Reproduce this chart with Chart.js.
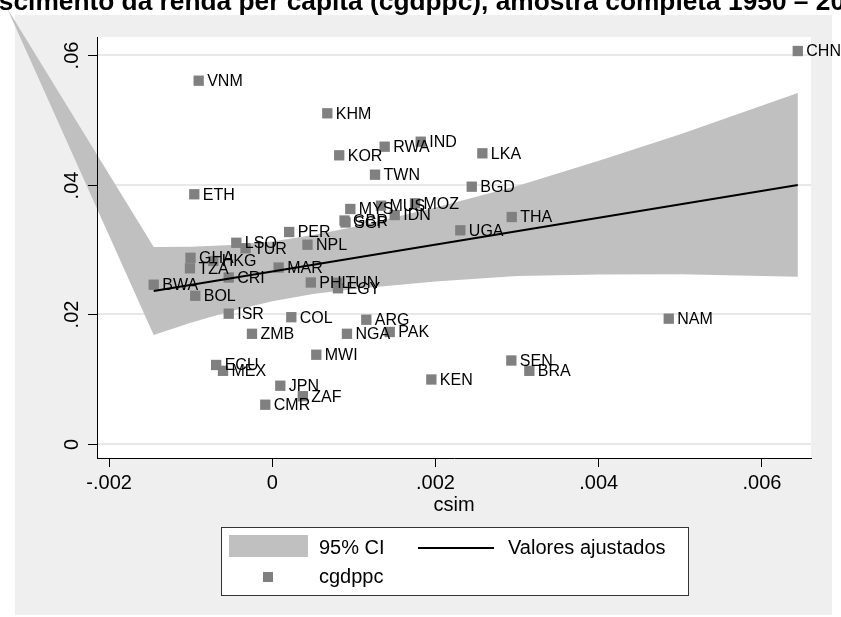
<!DOCTYPE html>
<html>
<head>
<meta charset="utf-8">
<script src="https://cdn.jsdelivr.net/npm/chart.js@4.4.1/dist/chart.umd.min.js"></script>
<style>
  html, body { margin: 0; padding: 0; background: #fff; }
  canvas { display: block; }
</style>
</head>
<body>
<canvas id="csimChart" width="841" height="617"></canvas>
<script>
// country codes, x = csim, y = cgdppc
const countries = ['VNM', 'KHM', 'RWA', 'IND', 'KOR', 'LKA', 'TWN', 'BGD', 'ETH', 'MYS', 'MUS', 'MOZ',
  'IDN', 'GBR', 'SGP', 'THA', 'UGA', 'CHN', 'PER', 'LSO', 'TUR', 'NPL', 'GHA', 'HKG', 'TZA', 'MAR',
  'CRI', 'BWA', 'PHL', 'TUN', 'EGY', 'BOL', 'ISR', 'COL', 'ARG', 'PAK', 'ZMB', 'NGA', 'MWI', 'ECU',
  'MEX', 'KEN', 'JPN', 'ZAF', 'CMR', 'NAM', 'SEN', 'BRA'];
const csim = [-0.000902, 0.000674, 0.001377, 0.001819, 0.000820, 0.002574, 0.001259, 0.002444, -0.000956,
  0.000956, 0.001332, 0.001749, 0.001500, 0.000885, 0.000897, 0.002934, 0.002304, 0.006439, 0.000207,
  -0.000441, -0.000328, 0.000431, -0.001002, -0.000723, -0.001009, 0.000078, -0.000534, -0.001453,
  0.000472, 0.000793, 0.000805, -0.000944, -0.000534, 0.000233, 0.001152, 0.001439, -0.000249, 0.000915,
  0.000539, -0.000688, -0.000604, 0.001949, 0.000098, 0.000374, -0.000086, 0.004858, 0.002929, 0.003150];
const cgdppc = [0.05604, 0.05101, 0.04586, 0.04663, 0.04453, 0.04484, 0.04154, 0.03969, 0.03852,
  0.03625, 0.03676, 0.03713, 0.03532, 0.03447, 0.03417, 0.03501, 0.03296, 0.06062, 0.03270,
  0.03104, 0.03019, 0.03074, 0.02872, 0.02823, 0.02710, 0.02722, 0.02568, 0.02457,
  0.02491, 0.02488, 0.02402, 0.02286, 0.02010, 0.01956, 0.01917, 0.01728, 0.01700, 0.01700,
  0.01377, 0.01219, 0.01129, 0.00995, 0.00899, 0.00737, 0.00606, 0.01933, 0.01288, 0.01129];

// fitted values
const fitX = [-0.001453, 0.006439];
const fitY = [0.0236, 0.03995];

// 95% CI band (first point is the stray corner point stata drew)
const ciX = [-0.003251, -0.001453, -0.001, -0.0005, 0, 0.0005, 0.001, 0.0015, 0.002, 0.0025, 0.003, 0.004, 0.005, 0.006439];
const ciUpper = [0.06725, 0.03039, 0.03042, 0.03068, 0.03125, 0.03222, 0.03349, 0.03498, 0.03648, 0.03813, 0.03978, 0.04371, 0.04779, 0.05416];
const ciLower = [0.06725, 0.01681, 0.01870, 0.02050, 0.02200, 0.02312, 0.02392, 0.02449, 0.02507, 0.02548, 0.02590, 0.02613, 0.02619, 0.02578];

const xTicks = [-0.002, 0, 0.002, 0.004, 0.006];
const yTicks = [0, 0.02, 0.04, 0.06];

const chartTitle = 'Crescimento da renda per capita (cgdppc), amostra completa 1950 – 2010';
const legendLabels = ['95% CI', 'Valores ajustados', 'cgdppc'];

const FONT = '"Liberation Sans", Arial, sans-serif';
const bandColor = '#c0c0c0';
const markerColor = '#808080';

function stataLabel(v, digits) {
    if (Math.abs(v) < 1e-12) return '0';
    return (v < 0 ? '-' : '') + Math.abs(v).toFixed(digits).replace(/^0/, '');
}

const toPoints = (xs, ys) => xs.map((x, i) => ({x: x, y: ys[i]}));

Chart.defaults.font.family = FONT;
Chart.defaults.color = '#000';

const backgroundPlugin = {
    id: 'background',
    beforeDraw(chart) {
        const {ctx, chartArea: a} = chart;
        ctx.save();
        ctx.fillStyle = '#fff';
        ctx.fillRect(0, 0, chart.width, chart.height);
        ctx.fillStyle = '#efefef';
        ctx.fillRect(15, 15, 817, 600);
        ctx.fillStyle = '#fff';
        ctx.fillRect(a.left, a.top, a.right - a.left, a.bottom - a.top);
        ctx.restore();
    }
};

// CI area, not clipped (stata let it run off to the corner)
const bandPlugin = {
    id: 'ciBand',
    beforeDatasetsDraw(chart) {
        const ctx = chart.ctx;
        const up = chart.getDatasetMeta(0).data;
        const lo = chart.getDatasetMeta(1).data;
        ctx.save();
        ctx.beginPath();
        up.forEach((p, i) => i ? ctx.lineTo(p.x, p.y) : ctx.moveTo(p.x, p.y));
        for (let i = lo.length - 1; i >= 0; i--) ctx.lineTo(lo[i].x, lo[i].y);
        ctx.closePath();
        ctx.fillStyle = bandColor;
        ctx.fill();
        ctx.restore();
    }
};

const pointLabelPlugin = {
    id: 'pointLabels',
    afterDatasetsDraw(chart) {
        const ctx = chart.ctx;
        const pts = chart.getDatasetMeta(3).data;
        ctx.save();
        ctx.font = '16px ' + FONT;
        ctx.fillStyle = '#000';
        ctx.textAlign = 'left';
        ctx.textBaseline = 'middle';
        pts.forEach((p, i) => ctx.fillText(countries[i], p.x + 8.5, p.y + 1));
        ctx.restore();
    }
};

const decorPlugin = {
    id: 'decor',
    afterDraw(chart) {
        const {ctx, chartArea: a} = chart;
        const y = chart.scales.y;
        ctx.save();

        // y ticks + vertical labels
        ctx.strokeStyle = '#000';
        ctx.lineWidth = 1;
        ctx.fillStyle = '#000';
        ctx.font = '20px ' + FONT;
        ctx.textAlign = 'center';
        ctx.textBaseline = 'middle';
        y.ticks.forEach(t => {
            const py = Math.round(y.getPixelForValue(t.value)) + 0.5;
            ctx.beginPath();
            ctx.moveTo(a.left - 9, py);
            ctx.lineTo(a.left, py);
            ctx.stroke();
            ctx.save();
            ctx.translate(a.left - 25, py);
            ctx.rotate(-Math.PI / 2);
            ctx.fillText(stataLabel(t.value, 2), 0, 0);
            ctx.restore();
        });

        // legend
        const cx = (a.left + a.right) / 2;
        const lx = Math.round(cx - 233.5), ly = 527;
        ctx.fillStyle = '#fff';
        ctx.fillRect(lx, ly, 467, 68);
        ctx.strokeStyle = '#333';
        ctx.strokeRect(lx + 0.5, ly + 0.5, 467, 68);
        ctx.fillStyle = bandColor;
        ctx.fillRect(lx + 8, ly + 8, 79, 22);
        ctx.strokeStyle = '#000';
        ctx.lineWidth = 2;
        ctx.beginPath();
        ctx.moveTo(lx + 197, ly + 21);
        ctx.lineTo(lx + 273, ly + 21);
        ctx.stroke();
        ctx.fillStyle = markerColor;
        ctx.fillRect(lx + 42, ly + 45, 10, 10);
        ctx.fillStyle = '#000';
        ctx.textAlign = 'left';
        ctx.fillText(legendLabels[0], lx + 98, ly + 21);
        ctx.fillText(legendLabels[1], lx + 287, ly + 21);
        ctx.fillText(legendLabels[2], lx + 98, ly + 50);

        // title, cut off by the original crop
        ctx.font = 'bold 26.3px ' + FONT;
        ctx.textBaseline = 'alphabetic';
        ctx.fillText(chartTitle, -45, 10);
        ctx.restore();
    }
};

const ctx = document.getElementById('csimChart').getContext('2d');
const csimChart = new Chart(ctx, {
    type: 'scatter',
    data: {
        datasets: [{
            type: 'line',
            label: 'ciUpper',
            data: toPoints(ciX, ciUpper),
            showLine: false,
            pointRadius: 0
        }, {
            type: 'line',
            label: 'ciLower',
            data: toPoints(ciX, ciLower),
            showLine: false,
            pointRadius: 0
        }, {
            type: 'line',
            label: legendLabels[1],
            data: toPoints(fitX, fitY),
            borderColor: '#000',
            borderWidth: 2,
            pointRadius: 0,
            fill: false
        }, {
            label: legendLabels[2],
            data: toPoints(csim, cgdppc),
            pointStyle: 'rect',
            pointRadius: 7.3,
            pointBorderWidth: 0,
            backgroundColor: markerColor,
            borderColor: markerColor
        }]
    },
    options: {
        responsive: false,
        devicePixelRatio: 1,
        animation: false,
        events: [],
        layout: {padding: {left: 15, right: 30, top: 37, bottom: 99}},
        plugins: {
            legend: {display: false},
            tooltip: {enabled: false},
            title: {display: false}
        },
        scales: {
            x: {
                type: 'linear',
                min: -0.002148,
                max: 0.006601,
                afterBuildTicks: s => { s.ticks = xTicks.map(v => ({value: v})); },
                afterFit: s => { s.height = 60; },
                ticks: {
                    font: {size: 20},
                    padding: 4,
                    maxRotation: 0,
                    callback: v => stataLabel(v, 3)
                },
                grid: {drawOnChartArea: false, drawTicks: true, tickLength: 9, tickColor: '#000', tickWidth: 1},
                border: {display: true, color: '#000', width: 1, z: 1},
                title: {display: true, text: 'csim', font: {size: 20}, padding: {top: 0, bottom: 1}}
            },
            y: {
                type: 'linear',
                min: -0.00216,
                max: 0.06278,
                afterBuildTicks: s => { s.ticks = yTicks.map(v => ({value: v})); },
                afterFit: s => { s.width = 82; },
                ticks: {display: false},
                grid: {drawOnChartArea: true, drawTicks: false, color: '#e8e8e8', lineWidth: 2},
                border: {display: true, color: '#000', width: 1, z: 1}
            }
        }
    },
    plugins: [backgroundPlugin, bandPlugin, pointLabelPlugin, decorPlugin]
});
</script>
</body>
</html>
